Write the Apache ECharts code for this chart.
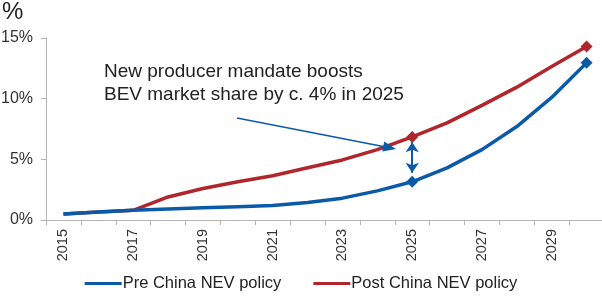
<!DOCTYPE html>
<html>
<head>
<meta charset="utf-8">
<script src="https://cdn.jsdelivr.net/npm/echarts@6/dist/echarts.min.js"></script>
<style>
  html, body { margin: 0; padding: 0; background: #fff; }
  #main { width: 602px; height: 303px; }
</style>
</head>
<body>
<div id="main"></div>
<script>
// years on the x axis
const years = ['2015', '2016', '2017', '2018', '2019', '2020', '2021', '2022',
  '2023', '2024', '2025', '2026', '2027', '2028', '2029', '2030'];
// BEV market share, %
const preNev = [0.5, 0.65, 0.8, 0.9, 1.0, 1.1, 1.2, 1.45, 1.8, 2.4, 3.15, 4.3, 5.8, 7.7, 10.1, 12.95];
const postNev = [0.5, 0.65, 0.8, 1.9, 2.6, 3.15, 3.65, 4.3, 4.95, 5.8, 6.85, 8.0, 9.45, 10.95, 12.65, 14.3];
const yTicks = [0, 5, 10, 15];
const markedYears = ['2025', '2030'];
const gapArrow = [3.9, 6.4]; // double arrow between the two lines in 2025

const FONT = '"Liberation Sans", Arial, sans-serif';
const BLUE = '#0b5aa8';
const RED = '#b0262c';

function markerSize(v, p) {
  return markedYears.indexOf(years[p.dataIndex]) >= 0 ? 12 : 0;
}

// pointer arrow from the note towards the red line
function pointer(x1, y1, x2, y2) {
  const a = Math.atan2(y2 - y1, x2 - x1);
  const len = 13, half = 5;
  const bx = x2 - len * Math.cos(a), by = y2 - len * Math.sin(a);
  const nx = -Math.sin(a) * half, ny = Math.cos(a) * half;
  return [
    { type: 'line', shape: { x1: x1, y1: y1, x2: bx, y2: by }, style: { stroke: BLUE, lineWidth: 1.5 }, z: 10 },
    { type: 'polygon', shape: { points: [[x2, y2], [bx + nx, by + ny], [bx - nx, by - ny]] }, style: { fill: BLUE }, z: 10 }
  ];
}

const chart = echarts.init(document.getElementById('main'));
const option = {
  animation: false,
  backgroundColor: '#fff',
  textStyle: { fontFamily: FONT },
  grid: { left: 46, top: 38, width: 558, height: 182, outerBoundsMode: 'none' },
  legend: {
    bottom: 6,
    left: 'center',
    itemWidth: 37,
    itemHeight: 3,
    itemGap: 32,
    icon: 'rect',
    textStyle: { fontFamily: FONT, fontSize: 16.5, color: '#222', padding: [0, 0, 0, -4] },
    data: ['Pre China NEV policy', 'Post China NEV policy']
  },
  graphic: [
    { type: 'text', left: 2, top: 0, style: { text: '%', font: '24px ' + FONT, fill: '#222' } },
    {
      type: 'text', left: 104, top: 60,
      style: {
        text: 'New producer mandate boosts\nBEV market share by c. 4% in 2025',
        font: '19px ' + FONT, fill: '#222', lineHeight: 23
      }
    }
  ].concat(pointer(237, 118, 396, 149)),
  xAxis: {
    type: 'category',
    data: years,
    boundaryGap: true,
    axisLine: { lineStyle: { color: '#b5b5b5', width: 1 } },
    axisTick: { show: true, interval: 0, length: 5, lineStyle: { color: '#b5b5b5' } },
    axisLabel: {
      interval: 1, rotate: 90, margin: 9,
      fontFamily: FONT, fontSize: 14.5, color: '#333'
    }
  },
  yAxis: {
    type: 'value',
    min: yTicks[0],
    max: yTicks[yTicks.length - 1],
    interval: 5,
    splitLine: { show: false },
    axisLine: { show: true, lineStyle: { color: '#b5b5b5', width: 1 } },
    axisTick: { show: true, length: 5, lineStyle: { color: '#b5b5b5' } },
    axisLabel: {
      margin: 13, fontFamily: FONT, fontSize: 16, color: '#333',
      formatter: v => v + '%'
    }
  },
  series: [
    {
      name: 'Pre China NEV policy',
      type: 'line',
      data: preNev,
      color: BLUE,
      lineStyle: { width: 3.5, color: BLUE },
      symbol: 'diamond',
      showAllSymbol: true,
      symbolSize: markerSize,
      itemStyle: { color: BLUE },
      z: 3,
      markLine: {
        silent: true,
        symbol: ['arrow', 'arrow'],
        symbolSize: 10,
        label: { show: false },
        lineStyle: { color: BLUE, width: 2, type: 'solid' },
        data: [[{ coord: ['2025', gapArrow[0]] }, { coord: ['2025', gapArrow[1]] }]]
      }
    },
    {
      name: 'Post China NEV policy',
      type: 'line',
      data: postNev,
      color: RED,
      lineStyle: { width: 3.5, color: RED },
      symbol: 'diamond',
      showAllSymbol: true,
      symbolSize: markerSize,
      itemStyle: { color: RED },
      z: 2
    }
  ]
};
chart.setOption(option);
</script>
</body>
</html>
